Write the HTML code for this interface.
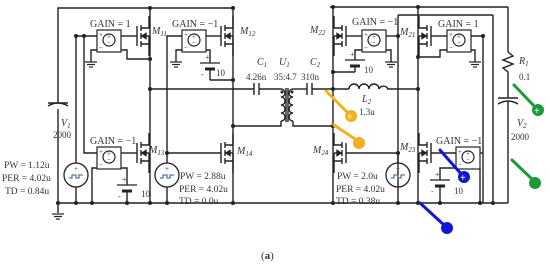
<!DOCTYPE html>
<html><head><style>body{margin:0;background:#fff}svg{display:block}text{font-family:"Liberation Serif",serif;fill:#333}</style></head><body>
<svg width="550" height="265" viewBox="0 0 550 265" xmlns="http://www.w3.org/2000/svg">
<defs>
<g id="fet" stroke="#222" stroke-width="1.4" fill="none">
<line x1="0" y1="-10" x2="0" y2="10"/><line x1="4" y1="-11" x2="4" y2="-5"/><line x1="4" y1="-3" x2="4" y2="3"/><line x1="4" y1="5" x2="4" y2="11"/>
<polyline points="4,-8 12,-8 12,-20"/><polyline points="4,8 12,8 12,20"/><line x1="4" y1="0" x2="12" y2="0"/><line x1="12" y1="0" x2="12" y2="8"/>
<polygon points="5,0 9,-2.5 9,2.5" fill="#222"/>
</g>
<g id="box" stroke="#222" stroke-width="1.2" fill="none">
<rect x="0" y="0" width="24" height="22"/><circle cx="12" cy="10" r="6"/>
<text x="10" y="9" font-size="7" stroke="none" fill="#222">+</text><text x="10" y="15" font-size="7" stroke="none" fill="#222">−</text>
<text x="2" y="7" font-size="7" stroke="none" fill="#222">+</text><text x="2" y="20" font-size="7" stroke="none" fill="#222">−</text>
</g>
<g id="src" stroke="#222" stroke-width="1.3" fill="none">
<circle r="12"/><polyline points="-7,3 -4,3 -4,0 0,0 0,3 3,3 3,0 7,0" stroke="#57a"/><text x="-2" y="-4" font-size="7" stroke="none" fill="#222">+</text>
</g>
<g id="bat" stroke="#222" fill="none">
<line x1="-10" y1="0" x2="10" y2="0" stroke-width="1.2"/><line x1="-5" y1="6" x2="5" y2="6" stroke-width="3"/>
<text x="-5" y="-3" font-size="8" stroke="none" fill="#222">+</text><text x="-9" y="14" font-size="8" stroke="none" fill="#222">-</text>
</g>
<g id="gnd" stroke="#222" stroke-width="1.2"><line x1="-6" y1="0" x2="6" y2="0"/><line x1="-4" y1="2.5" x2="4" y2="2.5"/><line x1="-2" y1="5" x2="2" y2="5"/></g>
</defs>
<g stroke="#222" stroke-width="1.4" fill="none">
<polyline points="58,103 58,8 233,8"/><line x1="330" y1="7" x2="508" y2="7"/>
<line x1="58" y1="203" x2="508" y2="203"/><line x1="58" y1="109" x2="58" y2="213"/>
<path d="M48,106 Q58,100 68,106"/><line x1="48" y1="103" x2="68" y2="103"/>
<line x1="150" y1="8" x2="150" y2="203"/><line x1="233" y1="8" x2="233" y2="203"/>
<line x1="333" y1="7" x2="333" y2="203"/><line x1="418" y1="7" x2="418" y2="203"/>
<line x1="398" y1="15" x2="398" y2="203"/><line x1="508" y1="7" x2="508" y2="52"/>
<polyline points="508,52 513,56 503,60 513,64 503,68 508,72 508,98"/>
<line x1="498" y1="98" x2="518" y2="98"/><path d="M498,104 Q508,98 518,104"/><line x1="508" y1="101" x2="508" y2="203"/>
<polyline points="150,89 254,89"/><line x1="254" y1="83" x2="254" y2="95"/><line x1="259" y1="83" x2="259" y2="95"/>
<polyline points="259,89 281,89"/>
<path d="M281,89 a4,4 0 0 1 0,8 a4,4 0 0 1 0,8 a4,4 0 0 1 0,8 a4,4 0 0 1 0,8"/>
<polyline points="281,121 281,126 233,126"/>
<line x1="286" y1="88" x2="286" y2="122"/><line x1="288" y1="88" x2="288" y2="122"/>
<path d="M293,89 a4,4 0 0 0 0,8 a4,4 0 0 0 0,8 a4,4 0 0 0 0,8 a4,4 0 0 0 0,8"/>
<polyline points="293,89 307,89"/><polyline points="293,121 293,126 333,126"/>
<line x1="307" y1="83" x2="307" y2="95"/><line x1="312" y1="83" x2="312" y2="95"/>
<polyline points="312,89 349,89"/><path d="M349,89 a5,5 0 0 1 10,0 a5,5 0 0 1 10,0 a5,5 0 0 1 10,0 a5,5 0 0 1 9,0"/><line x1="387" y1="89" x2="418" y2="89"/>
<polyline points="76,163 76,36 97,36"/><polyline points="84,36 84,153 97,153"/>
<polyline points="97,50 91,50 91,62"/><polyline points="121,50 127,50 127,59 150,59"/>
<polyline points="121,36 137,36"/><polyline points="121,153 137,153"/>
<polyline points="97,168 92,168 92,203"/><polyline points="121,168 127,168 127,185"/><line x1="127" y1="191" x2="127" y2="203"/>
<line x1="76" y1="187" x2="76" y2="203"/>
<polyline points="167,163 167,36 182,36"/><polyline points="206,36 221,36"/><polyline points="182,50 176,50 176,62"/>
<polyline points="206,50 210,50 210,63"/><line x1="210" y1="69" x2="210" y2="80"/><line x1="210" y1="80" x2="233" y2="80"/>
<polyline points="167,153 221,153"/><line x1="167" y1="187" x2="167" y2="203"/>
<polyline points="362,36 346,36"/><polyline points="386,36 398,36"/><polyline points="386,50 391,50 391,62"/>
<polyline points="362,50 355,50 355,60"/><line x1="355" y1="66" x2="355" y2="72"/><line x1="333" y1="72" x2="355" y2="72"/>
<line x1="346" y1="153" x2="398" y2="153"/><line x1="398" y1="163" x2="398" y2="153"/>
<polyline points="447,36 431,36"/><polyline points="471,36 483,36 483,203"/><polyline points="471,50 475,50 475,62"/>
<polyline points="447,50 440,50 440,57 418,57"/><line x1="493" y1="15" x2="493" y2="203"/><line x1="398" y1="15" x2="493" y2="15"/>
<polyline points="456,153 431,153"/><polyline points="480,153 483,153"/><polyline points="480,168 480,203"/>
<polyline points="456,168 440,168 440,180"/><line x1="440" y1="186" x2="440" y2="203"/>
</g>
<use href="#fet" x="137" y="36"/><use href="#fet" x="221" y="36"/><use href="#fet" x="137" y="153"/><use href="#fet" x="221" y="153"/>
<g transform="translate(346,36) scale(-1,1)"><use href="#fet"/></g><g transform="translate(431,36) scale(-1,1)"><use href="#fet"/></g>
<g transform="translate(346,153) scale(-1,1)"><use href="#fet"/></g><g transform="translate(431,153) scale(-1,1)"><use href="#fet"/></g>
<use href="#box" x="97" y="30"/><use href="#box" x="182" y="30"/><use href="#box" x="97" y="147"/>
<use href="#box" x="362" y="30"/><use href="#box" x="447" y="30"/><use href="#box" x="456" y="147"/>
<use href="#src" x="76" y="175"/><use href="#src" x="167" y="175"/><use href="#src" x="398" y="175"/>
<use href="#bat" x="210" y="63"/><use href="#bat" x="127" y="185"/><use href="#bat" x="355" y="60"/><use href="#bat" x="440" y="180"/>
<use href="#gnd" x="91" y="62"/><use href="#gnd" x="176" y="62"/><use href="#gnd" x="391" y="62"/><use href="#gnd" x="475" y="62"/><use href="#gnd" x="58" y="214"/>
<g fill="#222">
<circle cx="150" cy="8" r="2"/><circle cx="233" cy="8" r="2"/><circle cx="150" cy="59" r="2"/><circle cx="150" cy="89" r="2"/><circle cx="233" cy="80" r="2"/><circle cx="233" cy="126" r="2"/>
<circle cx="76" cy="36" r="2"/><circle cx="84" cy="36" r="2"/><circle cx="167" cy="153" r="2"/>
<circle cx="58" cy="203" r="2"/><circle cx="76" cy="203" r="2"/><circle cx="92" cy="203" r="2"/><circle cx="127" cy="203" r="2"/><circle cx="150" cy="203" r="2"/><circle cx="167" cy="203" r="2"/><circle cx="233" cy="203" r="2"/>
<circle cx="333" cy="7" r="2"/><circle cx="418" cy="7" r="2"/><circle cx="333" cy="72" r="2"/><circle cx="333" cy="89" r="2"/><circle cx="333" cy="126" r="2"/><circle cx="418" cy="89" r="2"/><circle cx="418" cy="57" r="2"/>
<circle cx="398" cy="36" r="2"/><circle cx="398" cy="153" r="2"/><circle cx="483" cy="36" r="2"/>
<circle cx="333" cy="203" r="2"/><circle cx="398" cy="203" r="2"/><circle cx="418" cy="203" r="2"/><circle cx="440" cy="203" r="2"/><circle cx="480" cy="203" r="2"/><circle cx="493" cy="203" r="2"/>
<circle cx="282" cy="92" r="1.5"/><circle cx="292" cy="92" r="1.5"/>
</g>
<g font-size="10">
<text x="90" y="27">GAIN = 1</text><text x="172" y="27">GAIN = −1</text><text x="90" y="144">GAIN = −1</text>
<text x="352" y="25">GAIN = −1</text><text x="438" y="27">GAIN = 1</text><text x="436" y="144">GAIN = −1</text>
<text x="152" y="34" font-style="italic">M<tspan font-size="7" dy="2">11</tspan></text>
<text x="240" y="34" font-style="italic">M<tspan font-size="7" dy="2">12</tspan></text>
<text x="149" y="153" font-style="italic">M<tspan font-size="7" dy="2">13</tspan></text>
<text x="237" y="154" font-style="italic">M<tspan font-size="7" dy="2">14</tspan></text>
<text x="310" y="33" font-style="italic">M<tspan font-size="7" dy="2">22</tspan></text>
<text x="400" y="35" font-style="italic">M<tspan font-size="7" dy="2">21</tspan></text>
<text x="400" y="150" font-style="italic">M<tspan font-size="7" dy="2">23</tspan></text>
<text x="313" y="153" font-style="italic">M<tspan font-size="7" dy="2">24</tspan></text>
<text x="61" y="126" font-style="italic">V<tspan font-size="7" dy="2">1</tspan></text><text x="53" y="138" font-size="9">2000</text>
<text x="517" y="126" font-style="italic">V<tspan font-size="7" dy="2">2</tspan></text><text x="511" y="140" font-size="9">2000</text>
<text x="519" y="64" font-style="italic">R<tspan font-size="7" dy="2">1</tspan></text><text x="519" y="80" font-size="9">0.1</text>
<text x="257" y="65" font-style="italic">C<tspan font-size="7" dy="2">1</tspan></text><text x="246" y="80" font-size="9">4.26n</text>
<text x="279" y="65" font-style="italic">U<tspan font-size="7" dy="2">1</tspan></text><text x="274" y="80" font-size="9">35:4.7</text>
<text x="310" y="65" font-style="italic">C<tspan font-size="7" dy="2">2</tspan></text><text x="301" y="80" font-size="9">310n</text>
<text x="362" y="102" font-style="italic">L<tspan font-size="7" dy="2">2</tspan></text><text x="359" y="115" font-size="9">1.3u</text>
<g font-size="9.5"><text x="4" y="168">PW = 1.12u</text><text x="2" y="181">PER = 4.02u</text><text x="5" y="194">TD = 0.84u</text>
<text x="180" y="179">PW = 2.88u</text><text x="179" y="192">PER = 4.02u</text><text x="179" y="204">TD = 0.0u</text>
<text x="337" y="179">PW = 2.0u</text><text x="336" y="192">PER = 4.02u</text><text x="336" y="204">TD = 0.38u</text></g>
<text x="141" y="197" font-size="9">10</text><text x="216" y="76" font-size="9">10</text><text x="364" y="73" font-size="9">10</text><text x="454" y="194" font-size="9">10</text>
<text x="261" y="259" font-size="11">(<tspan font-weight="bold">a</tspan>)</text>
</g>
<g stroke-linecap="round">
<line x1="326" y1="91" x2="350" y2="115" stroke="#f2b11c" stroke-width="3"/><circle cx="351" cy="116" r="6" fill="#f2b11c"/>
<line x1="334" y1="125" x2="358" y2="141" stroke="#f2b11c" stroke-width="3"/><circle cx="359" cy="143" r="6" fill="#f2b11c"/>
<line x1="514" y1="85" x2="536" y2="108" stroke="#1a9a3a" stroke-width="3"/><circle cx="538" cy="110" r="6" fill="#1a9a3a"/>
<line x1="512" y1="160" x2="533" y2="180" stroke="#1a9a3a" stroke-width="3"/><circle cx="535" cy="183" r="6" fill="#1a9a3a"/>
<line x1="440" y1="150" x2="462" y2="175" stroke="#1414d4" stroke-width="3"/><circle cx="464" cy="177" r="6" fill="#1414d4"/>
<line x1="420" y1="203" x2="444" y2="225" stroke="#1414d4" stroke-width="3"/><circle cx="447" cy="228" r="6" fill="#1414d4"/>
</g>
<g font-size="10" font-weight="bold"><text x="347" y="120" style="fill:#fff">+</text><text x="534" y="114" style="fill:#fff">+</text><text x="460" y="181" style="fill:#fff">+</text></g>
</svg>
</body></html>
